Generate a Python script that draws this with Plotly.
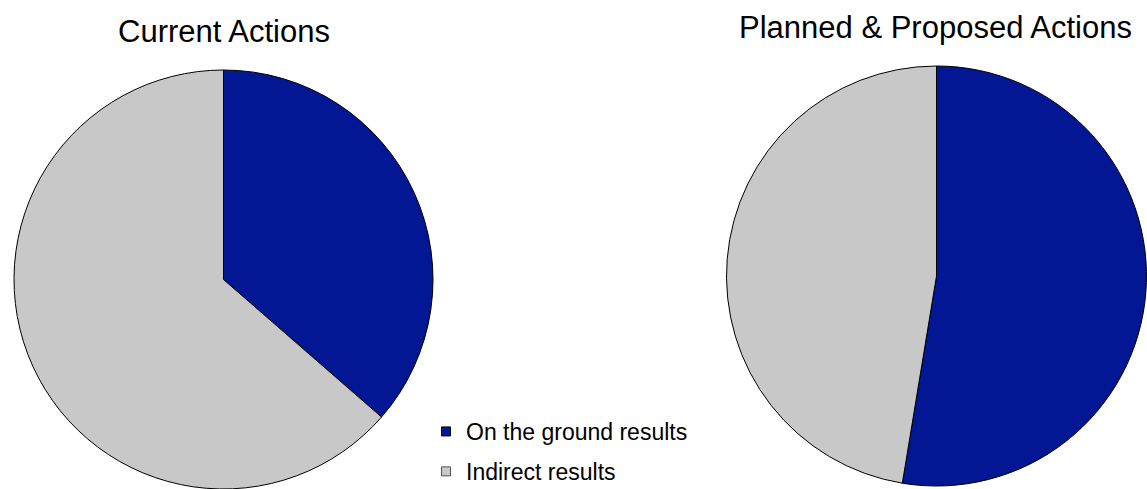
import plotly.graph_objects as go

# Share of actions by type of result
categories = ["On the ground results", "Indirect results"]
current_values = [36.4, 63.6]
planned_values = [52.6, 47.4]

chart_titles = ["Current Actions", "Planned & Proposed Actions"]
slice_colors = ["#031693", "#C8C8C8"]
legend_edge = ["#000000", "#555555"]

W, H = 1147, 489
FONT = "Arial, Liberation Sans, sans-serif"

def dom(cx, top, r):
    return dict(x=[(cx - r) / W, (cx + r) / W],
                y=[max(0, 1 - (top + 2 * r) / H), 1 - top / H])

fig = go.Figure()
fig.add_trace(go.Pie(
    labels=categories, values=current_values, sort=False, direction="clockwise",
    rotation=0, textinfo="none", hoverinfo="label+percent",
    marker=dict(colors=slice_colors, line=dict(color="black", width=1)),
    domain=dom(223.5, 70, 209.5), showlegend=False,
))
fig.add_trace(go.Pie(
    labels=categories, values=planned_values, sort=False, direction="clockwise",
    rotation=0, textinfo="none", hoverinfo="label+percent",
    marker=dict(colors=slice_colors, line=dict(color="black", width=1)),
    domain=dom(936.5, 66, 210), showlegend=False,
))

# legend entries: small square swatches, one group each for spacing
for i, name in enumerate(categories):
    fig.add_trace(go.Scatter(
        x=[None], y=[None], mode="markers", name=name, legendgroup=f"g{i}",
        marker=dict(symbol="square", size=9, color=slice_colors[i],
                    line=dict(color=legend_edge[i], width=1)),
        hoverinfo="skip",
    ))

title_font = dict(family=FONT, size=31, color="black")
fig.add_annotation(text=chart_titles[0], x=223.5 / W, y=1 - 31 / H, xref="paper", yref="paper",
                   showarrow=False, xanchor="center", yanchor="middle", font=title_font)
fig.add_annotation(text=chart_titles[1], x=935 / W, y=1 - 27 / H, xref="paper", yref="paper",
                   showarrow=False, xanchor="center", yanchor="middle", font=title_font)

fig.update_layout(
    width=W, height=H,
    margin=dict(l=0, r=0, t=0, b=0, autoexpand=False),
    paper_bgcolor="white", plot_bgcolor="rgba(0,0,0,0)",
    xaxis=dict(visible=False), yaxis=dict(visible=False),
    legend=dict(x=426 / W, y=1 - 410 / H, xanchor="left", yanchor="top",
                font=dict(family=FONT, size=23, color="black"),
                bgcolor="rgba(0,0,0,0)", traceorder="grouped", tracegroupgap=7,
                itemwidth=30),
)

fig.write_html("out.html")
